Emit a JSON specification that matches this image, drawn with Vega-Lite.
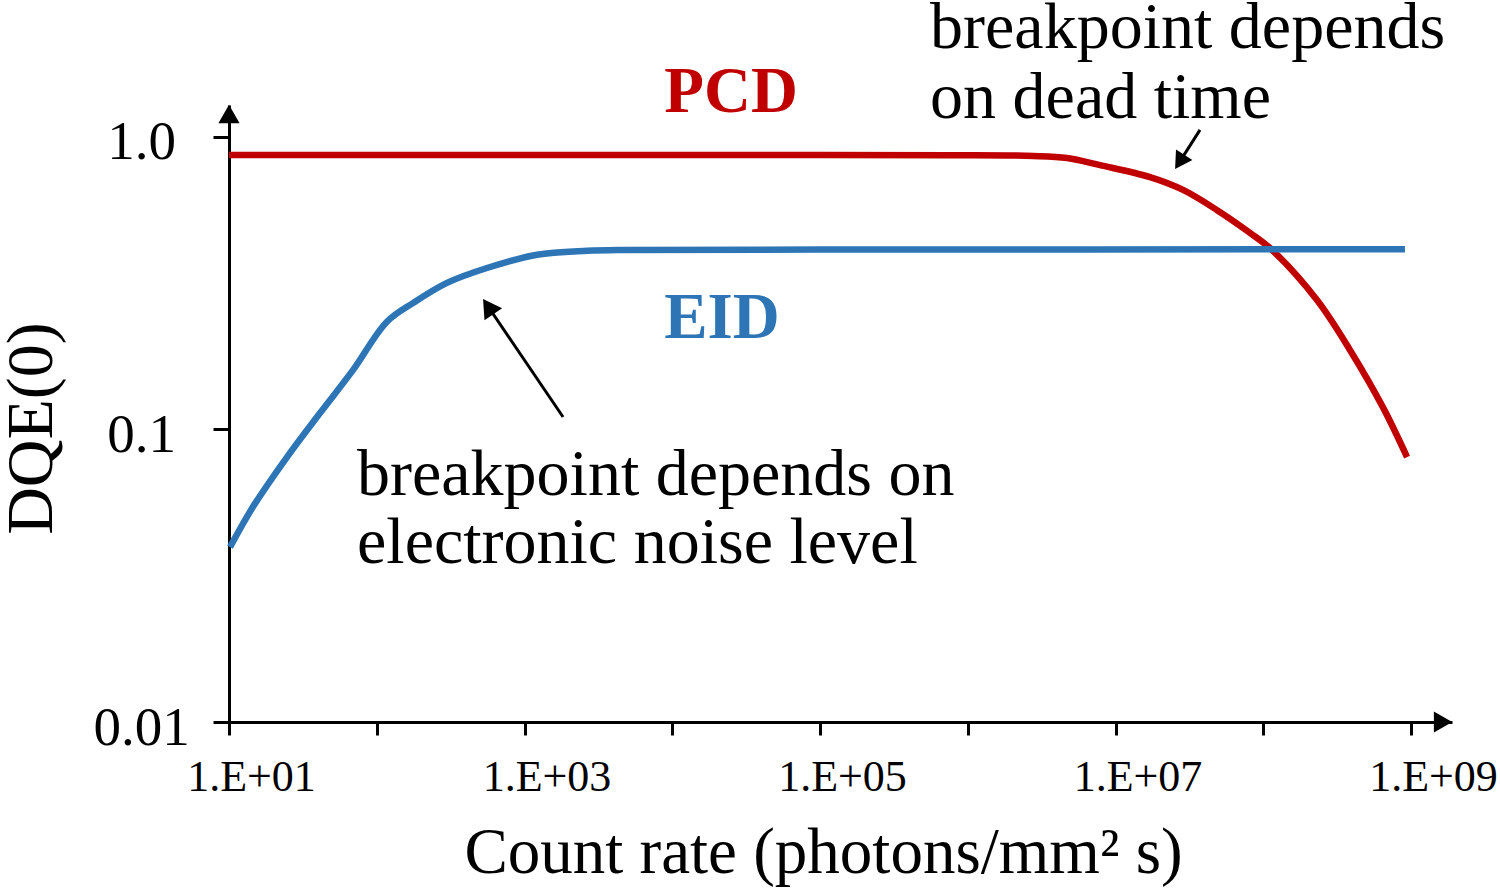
{
  "$schema": "https://vega.github.io/schema/vega-lite/v6.json",
  "width": 1223,
  "height": 617,
  "autosize": {"type": "none"},
  "padding": {"left": 229, "top": 105, "right": 48, "bottom": 170},
  "background": "white",
  "config": {
    "view": {"stroke": null},
    "font": "Liberation Serif",
    "axis": {
      "grid": false,
      "domainColor": "black",
      "domainWidth": 3,
      "tickColor": "black",
      "tickWidth": 3,
      "labelColor": "black",
      "titleColor": "black",
      "labelFont": "Liberation Serif",
      "titleFont": "Liberation Serif",
      "titleFontWeight": "normal"
    }
  },
  "layer": [
    {
      "data": {
        "values": [
          {"series": "PCD", "x": 10, "y": 0.867},
          {"series": "PCD", "x": 1000, "y": 0.867},
          {"series": "PCD", "x": 100000, "y": 0.867},
          {"series": "PCD", "x": 759000, "y": 0.866},
          {"series": "PCD", "x": 2770000, "y": 0.861},
          {"series": "PCD", "x": 4700000, "y": 0.847},
          {"series": "PCD", "x": 7860000, "y": 0.801},
          {"series": "PCD", "x": 17130000, "y": 0.729},
          {"series": "PCD", "x": 28660000, "y": 0.659},
          {"series": "PCD", "x": 48700000, "y": 0.562},
          {"series": "PCD", "x": 81300000, "y": 0.47},
          {"series": "PCD", "x": 114500000, "y": 0.411},
          {"series": "PCD", "x": 231000000, "y": 0.277},
          {"series": "PCD", "x": 386000000, "y": 0.187},
          {"series": "PCD", "x": 646000000, "y": 0.119},
          {"series": "PCD", "x": 940000000, "y": 0.0805},
          {"series": "EID", "x": 10.16, "y": 0.0396},
          {"series": "EID", "x": 14.5, "y": 0.0543},
          {"series": "EID", "x": 24.7, "y": 0.0805},
          {"series": "EID", "x": 41.3, "y": 0.1138},
          {"series": "EID", "x": 69.0, "y": 0.1595},
          {"series": "EID", "x": 117.2, "y": 0.2335},
          {"series": "EID", "x": 175.8, "y": 0.2704},
          {"series": "EID", "x": 298.5, "y": 0.317},
          {"series": "EID", "x": 557, "y": 0.3565},
          {"series": "EID", "x": 1216, "y": 0.3956},
          {"series": "EID", "x": 2649, "y": 0.408},
          {"series": "EID", "x": 4426, "y": 0.411},
          {"series": "EID", "x": 100000, "y": 0.412},
          {"series": "EID", "x": 910000000, "y": 0.413}
        ]
      },
      "mark": {"type": "line", "strokeWidth": 6.5, "interpolate": "catmull-rom", "clip": false},
      "encoding": {
        "x": {
          "field": "x",
          "type": "quantitative",
          "scale": {"type": "log", "domain": [10, 1894000000], "nice": false, "zero": false},
          "axis": {
            "values": [10, 100, 1000, 10000, 100000, 1000000, 10000000, 100000000, 1000000000],
            "labelExpr": "(round(log(datum.value)/LN10) % 2 == 1) ? '1.E+0' + round(log(datum.value)/LN10) : ''",
            "tickSize": 13,
            "labelFontSize": 44,
            "labelPadding": 20,
            "labelOffset": 22,
            "labelFlush": false,
            "labelOverlap": false,
            "title": "Count rate (photons/mm² s)",
            "titleFontSize": 65,
            "titleX": 594,
            "titleY": 150,
            "titleAlign": "center",
            "titleBaseline": "alphabetic"
          }
        },
        "y": {
          "field": "y",
          "type": "quantitative",
          "scale": {"type": "log", "domain": [0.01, 1.286], "nice": false, "zero": false},
          "axis": {
            "values": [0.01, 0.1, 1],
            "labelExpr": "datum.value >= 0.5 ? '1.0' : (datum.value >= 0.05 ? '0.1' : '0.01')",
            "tickSize": 16,
            "labelFontSize": 55,
            "labelAlign": "center",
            "labelPadding": 72,
            "labelOffset": 5,
            "labelOverlap": false,
            "labelFlush": false,
            "title": "DQE(0)",
            "titleFontSize": 66,
            "titleAngle": -90,
            "titleX": -178,
            "titleY": 323,
            "titleAlign": "center",
            "titleBaseline": "alphabetic"
          }
        },
        "color": {
          "field": "series",
          "type": "nominal",
          "scale": {"domain": ["PCD", "EID"], "range": ["#C00000", "#2E75B6"]},
          "legend": null
        },
        "detail": {"field": "series"}
      }
    },
    {
      "data": {
        "values": [
          {"x": 1824, "y": 0.1103, "x2": 567.6, "y2": 0.263},
          {"x": 37300000, "y": 1.057, "x2": 27170000, "y2": 0.822}
        ]
      },
      "mark": {"type": "rule", "strokeWidth": 3, "color": "black", "clip": false},
      "encoding": {
        "x": {"field": "x", "type": "quantitative"},
        "y": {"field": "y", "type": "quantitative"},
        "x2": {"field": "x2"},
        "y2": {"field": "y2"}
      }
    },
    {
      "data": {"values": [{"x": 567.6, "y": 0.263}]},
      "mark": {"type": "point", "shape": "triangle-up", "filled": true, "color": "black", "opacity": 1, "size": 450, "angle": -34, "clip": false},
      "encoding": {
        "x": {"field": "x", "type": "quantitative"},
        "y": {"field": "y", "type": "quantitative"}
      }
    },
    {
      "data": {"values": [{"x": 27170000, "y": 0.822}]},
      "mark": {"type": "point", "shape": "triangle-up", "filled": true, "color": "black", "opacity": 1, "size": 380, "angle": 212.7, "clip": false},
      "encoding": {
        "x": {"field": "x", "type": "quantitative"},
        "y": {"field": "y", "type": "quantitative"}
      }
    },
    {
      "data": {"values": [{"x": 10, "y": 1.198}]},
      "mark": {"type": "point", "shape": "triangle-up", "filled": true, "color": "black", "opacity": 1, "size": 450, "clip": false},
      "encoding": {
        "x": {"field": "x", "type": "quantitative"},
        "y": {"field": "y", "type": "quantitative"}
      }
    },
    {
      "data": {"values": [{"x": 1647000000, "y": 0.01}]},
      "mark": {"type": "point", "shape": "triangle-right", "filled": true, "color": "black", "opacity": 1, "size": 450, "clip": false},
      "encoding": {
        "x": {"field": "x", "type": "quantitative"},
        "y": {"field": "y", "type": "quantitative"}
      }
    },
    {
      "data": {"values": [{"label": "PCD", "x": 25000, "y": 1.217}]},
      "mark": {"type": "text", "font": "Liberation Serif", "fontSize": 65, "fontWeight": "bold", "color": "#C00000", "align": "center", "baseline": "alphabetic", "clip": false},
      "encoding": {
        "x": {"field": "x", "type": "quantitative"},
        "y": {"field": "y", "type": "quantitative"},
        "text": {"field": "label"}
      }
    },
    {
      "data": {"values": [{"label": "EID", "x": 21700, "y": 0.2056}]},
      "mark": {"type": "text", "font": "Liberation Serif", "fontSize": 65, "fontWeight": "bold", "color": "#2E75B6", "align": "center", "baseline": "alphabetic", "clip": false},
      "encoding": {
        "x": {"field": "x", "type": "quantitative"},
        "y": {"field": "y", "type": "quantitative"},
        "text": {"field": "label"}
      }
    },
    {
      "data": {
        "values": [
          {"label": "breakpoint depends", "x": 556000, "y": 2.014},
          {"label": "on dead time", "x": 556000, "y": 1.161},
          {"label": "breakpoint depends on", "x": 73.5, "y": 0.0597},
          {"label": "electronic noise level", "x": 73.5, "y": 0.035}
        ]
      },
      "mark": {"type": "text", "font": "Liberation Serif", "fontSize": 66, "color": "black", "align": "left", "baseline": "alphabetic", "clip": false},
      "encoding": {
        "x": {"field": "x", "type": "quantitative"},
        "y": {"field": "y", "type": "quantitative"},
        "text": {"field": "label"}
      }
    }
  ]
}
